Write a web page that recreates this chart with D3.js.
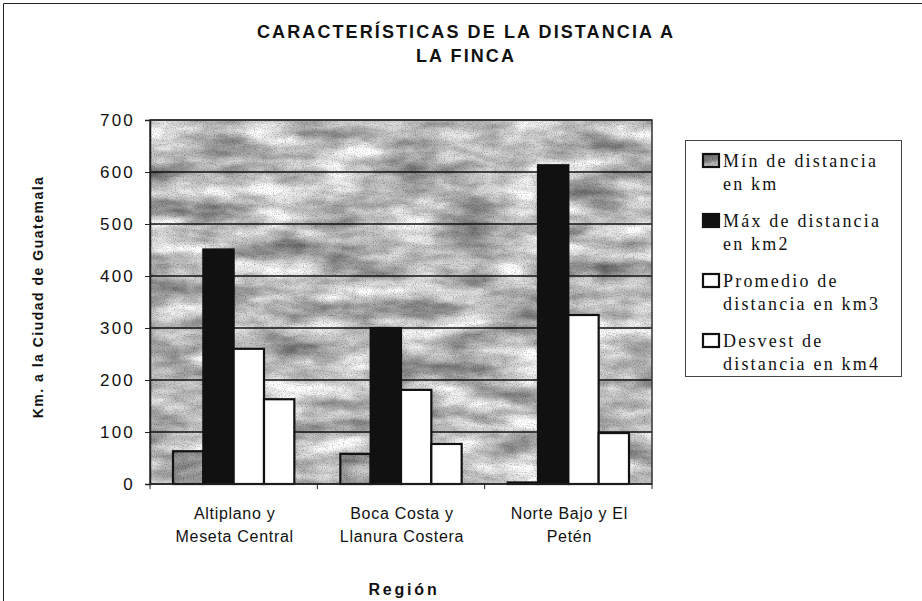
<!DOCTYPE html>
<html><head><meta charset="utf-8">
<script src="https://cdn.jsdelivr.net/npm/d3@7"></script>
<style>body{margin:0;background:#fff}svg{display:block}</style>
</head><body>
<script>
const categories = [["Altiplano y","Meseta Central"],["Boca Costa y","Llanura Costera"],["Norte Bajo y El","Petén"]];
const seriesNames = [["Mín de distancia","en km"],["Máx de distancia","en km2"],["Promedio de","distancia en km3"],["Desvest de","distancia en km4"]];
const minVals = [63, 58, 3];
const maxVals = [451, 300, 613];
const promVals = [260, 181, 325];
const desvVals = [163, 77, 98];
const yTicks = [0,100,200,300,400,500,600,700];
const titleLines = ["CARACTERÍSTICAS DE LA DISTANCIA A","LA FINCA"];
const yLabel = "Km. a la Ciudad de Guatemala";
const xLabel = "Región";

const series = [minVals, maxVals, promVals, desvVals];
const W=922,H=601;
const svg=d3.select("body").append("svg").attr("width",W).attr("height",H);
const defs=svg.append("defs");
function texFilter(id, seed, gain, off, fine){
  const f=defs.append("filter").attr("id",id).attr("x",0).attr("y",0).attr("width",1).attr("height",1)
    .attr("color-interpolation-filters","sRGB");
  f.append("feTurbulence").attr("type","fractalNoise").attr("baseFrequency","0.016 0.05").attr("numOctaves",4).attr("seed",seed).attr("result","n1");
  f.append("feColorMatrix").attr("in","n1").attr("type","matrix")
   .attr("values",`${gain} 0 0 0 ${off}  ${gain} 0 0 0 ${off}  ${gain} 0 0 0 ${off}  0 0 0 0 1`).attr("result","g1");
  f.append("feTurbulence").attr("type","fractalNoise").attr("baseFrequency","0.9").attr("numOctaves",1).attr("seed",seed+5).attr("result","n2");
  f.append("feColorMatrix").attr("in","n2").attr("type","matrix")
   .attr("values",`${fine} 0 0 0 ${1-fine/2}  ${fine} 0 0 0 ${1-fine/2}  ${fine} 0 0 0 ${1-fine/2}  0 0 0 0 1`).attr("result","g2");
  f.append("feBlend").attr("in","g1").attr("in2","g2").attr("mode","multiply").attr("result","b");
  f.append("feComposite").attr("in","b").attr("in2","SourceGraphic").attr("operator","in");
}
texFilter("tex",3,0.9,0.3,0.9);
texFilter("texd",11,0.7,0.25,1.0);

// outer frame
svg.append("path").attr("d","M3.5,601 V3.5 H922").attr("fill","none").attr("stroke","#222").attr("stroke-width",1);

const m={l:150,r:652,t:120,b:484};
const x=d3.scaleBand().domain(d3.range(categories.length)).range([m.l,m.r]);
const xs=d3.scaleBand().domain(d3.range(series.length)).range([23,x.bandwidth()-23]).paddingInner(0);
const y=d3.scaleLinear().domain([0,700]).range([m.b,m.t]);

// plot background
svg.append("rect").attr("x",m.l).attr("y",m.t).attr("width",m.r-m.l).attr("height",m.b-m.t).attr("fill","#fff").attr("filter","url(#tex)");
// gridlines
svg.append("g").selectAll("line").data(yTicks.filter(d=>d>0)).join("line")
 .attr("x1",m.l).attr("x2",m.r).attr("y1",d=>y(d)).attr("y2",d=>y(d)).attr("stroke","#111").attr("stroke-width",1.5);
svg.append("rect").attr("x",m.l).attr("y",m.t).attr("width",m.r-m.l).attr("height",m.b-m.t).attr("fill","none").attr("stroke","#333").attr("stroke-width",1.5);

const fills=["#fff","#111","#fff","#fff"];
series.forEach((vals,si)=>{
  svg.append("g").selectAll("rect").data(vals).join("rect")
   .attr("x",(d,i)=>x(i)+xs(si)).attr("width",xs.bandwidth())
   .attr("y",d=>y(d)).attr("height",d=>y(0)-y(d))
   .attr("fill",fills[si]).attr("filter",si===0?"url(#texd)":null);
  svg.append("g").selectAll("rect").data(vals).join("rect")
   .attr("x",(d,i)=>x(i)+xs(si)).attr("width",xs.bandwidth())
   .attr("y",d=>y(d)).attr("height",d=>y(0)-y(d))
   .attr("fill","none").attr("stroke","#111").attr("stroke-width",2.2);
});

// axes
const ya=svg.append("g").attr("transform",`translate(${m.l},0)`)
 .call(d3.axisLeft(y).tickValues(yTicks).tickSize(5).tickPadding(10));
ya.select(".domain").attr("stroke","#222").attr("stroke-width",1.5);
ya.selectAll("line").attr("stroke","#222");
ya.selectAll("text").attr("font-family","Liberation Sans, Arial").attr("font-size",17).attr("letter-spacing",2.2).attr("fill","#111");

const xa=svg.append("g").attr("transform",`translate(0,${m.b})`);
xa.append("line").attr("x1",m.l).attr("x2",m.r).attr("stroke","#222").attr("stroke-width",1.5);
xa.selectAll("line.t").data(d3.range(categories.length+1)).join("line").attr("class","t")
 .attr("x1",i=>m.l+i*x.step()).attr("x2",i=>m.l+i*x.step()).attr("y1",0).attr("y2",5).attr("stroke","#222");
categories.forEach((c,i)=>{
  const cx=x(i)+x.bandwidth()/2+1;
  const t=xa.append("text").attr("text-anchor","middle")
   .attr("font-family","Liberation Sans, Arial").attr("font-size",16).attr("fill","#111").attr("letter-spacing",0.7);
  c.forEach((ln,k)=>t.append("tspan").attr("x",cx).attr("y",35+k*23).text(ln));
});

// title
titleLines.forEach((t,k)=>svg.append("text").attr("x",466).attr("y",38+k*24).attr("text-anchor","middle")
 .attr("font-family","Liberation Sans, Arial").attr("font-weight","bold").attr("font-size",18).attr("letter-spacing",2.1).attr("fill","#111").text(t));
svg.append("text").attr("x",404).attr("y",595).attr("text-anchor","middle").attr("font-family","Liberation Sans, Arial")
 .attr("font-weight","bold").attr("font-size",16).attr("letter-spacing",2.8).attr("fill","#111").text(xLabel);
svg.append("text").attr("transform","translate(43,297) rotate(-90)").attr("text-anchor","middle").attr("font-family","Liberation Sans, Arial")
 .attr("font-weight","bold").attr("font-size",14).attr("letter-spacing",1.5).attr("fill","#111").text(yLabel);

// legend
const lg=svg.append("g");
lg.append("rect").attr("x",685.5).attr("y",140.5).attr("width",216).attr("height",236).attr("fill","#fff").attr("stroke","#444").attr("stroke-width",1);
seriesNames.forEach((nm,i)=>{
  const by=167+i*60;
  lg.append("rect").attr("x",703).attr("y",by-13).attr("width",16).attr("height",13).attr("fill",fills[i]).attr("filter",i===0?"url(#texd)":null);
  lg.append("rect").attr("x",703).attr("y",by-13).attr("width",16).attr("height",13).attr("fill","none").attr("stroke","#111").attr("stroke-width",2.2);
  nm.forEach((ln,k)=>lg.append("text").attr("x",723).attr("y",by+k*23).attr("font-family","Liberation Serif, Times New Roman")
   .attr("font-size",18).attr("letter-spacing",2.2).attr("fill","#111").text(ln));
});
</script>
</body></html>
